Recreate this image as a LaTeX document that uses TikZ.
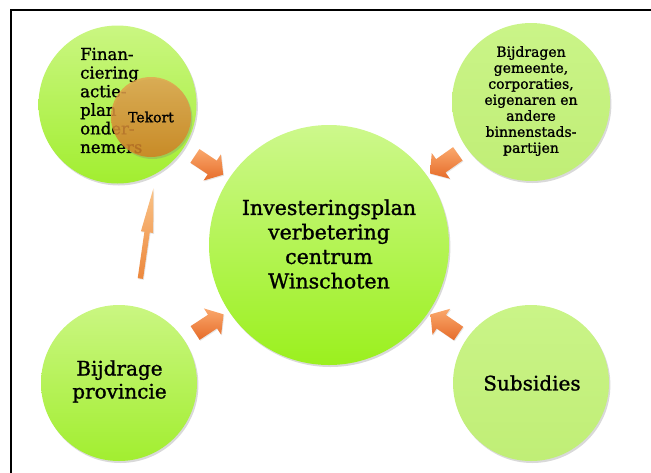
\documentclass[tikz,border=0pt]{standalone}
\usepackage{fontspec}
\setmainfont{DejaVu Serif}[FakeBold=1.2]
\usetikzlibrary{shapes.arrows,shadows,calc}
\definecolor{cTop}{RGB}{205,248,140}
\definecolor{cBot}{RGB}{155,240,30}
\definecolor{gTop}{RGB}{202,246,130}
\definecolor{gBot}{RGB}{162,238,48}
\definecolor{pTop}{RGB}{202,244,136}
\definecolor{pBot}{RGB}{192,238,118}
\definecolor{oTop}{RGB}{250,168,108}
\definecolor{oBot}{RGB}{230,108,42}
\definecolor{tTop}{RGB}{250,195,135}
\definecolor{tBot}{RGB}{236,135,60}
\definecolor{kTop}{RGB}{228,165,80}
\definecolor{kBot}{RGB}{210,125,30}
\begin{document}
\begin{tikzpicture}[x=1pt,y=1pt,
  bubble/.style={circle, inner sep=0pt, minimum size=#1,
    drop shadow={opacity=0.3, shadow xshift=1.4pt, shadow yshift=-2pt}},
  greenC/.style={top color=cTop, bottom color=cBot},
  greenA/.style={top color=gTop, bottom color=gBot},
  greenP/.style={top color=pTop, bottom color=pBot},
  barrow/.style={single arrow, inner sep=0pt, inner ysep=8pt,
    single arrow head extend=7.5pt, single arrow tip angle=100,
    minimum height=34pt, top color=oTop, bottom color=oBot,
    drop shadow={opacity=0.2, shadow xshift=0.8pt, shadow yshift=-1pt}},
  thinarrow/.style={single arrow, inner sep=0pt, inner ysep=2.5pt,
    single arrow head extend=3.5pt, single arrow tip angle=16,
    minimum height=91pt, top color=tTop, bottom color=tBot,
    drop shadow={opacity=0.2, shadow xshift=0.8pt, shadow yshift=-1pt}},
  bigtext/.style={font=\fontsize{20.5}{24.5}\selectfont, align=center, inner sep=0pt},
  midtext/.style={font=\fontsize{20}{23}\selectfont, align=center, inner sep=0pt},
  smalltext/.style={font=\fontsize{14}{16}\selectfont, align=center, inner sep=0pt}
]
\useasboundingbox (0,0) rectangle (651,-472);
\draw[line width=2pt] (11,-473) -- (11,-10) -- (652,-10);

% circles
\node[bubble=240, greenC] (c)  at (329,-245) {};
\node[bubble=158, greenA] (tl) at (117.5,-104.5) {};
\node[bubble=158, greenP] (tr) at (531,-102) {};
\node[bubble=156, greenA] (bl) at (119,-383) {};
\node[bubble=156, greenP] (br) at (531,-383) {};

% block arrows towards the centre
\path (tl) -- node[midway, sloped, allow upside down, barrow] (a1) {} (c);
\path (tr) -- node[midway, sloped, allow upside down, barrow] (a2) {} (c);
\path (bl) -- node[midway, sloped, allow upside down, barrow] (a3) {} (c);
\path (br) -- node[midway, sloped, allow upside down, barrow] (a4) {} (c);

% thin arrow
\coordinate (t1) at (139,-288);
\coordinate (t2) at (152,-198);
\path (t1) -- node[midway, sloped, allow upside down, thinarrow] (ta) {} (t2);

% texts
\node[bigtext] (ct) at (329,-244) {Investeringsplan\\verbetering\\centrum\\Winschoten};
\node[font=\fontsize{16.5}{18.6}\selectfont, align=left, anchor=west, inner sep=0pt] (tlt) at (80,-100.5)
  {Finan-\\ciering\\actie-\\plan\\onder-\\nemers};
\node[bubble=80, top color=kTop, bottom color=kBot, fill opacity=0.82, text opacity=1,
  font=\fontsize{14}{16}\selectfont] (tk) at (151,-117) {Tekort};
\node[smalltext] (trt) at (531,-101)
  {Bijdragen\\gemeente,\\corporaties,\\eigenaren en\\andere\\binnenstads-\\partijen};
\node[midtext] (blt) at (119.5,-381.5) {Bijdrage\\provincie};
\node[midtext] (brt) at (532,-383) {Subsidies};
\end{tikzpicture}
\end{document}
